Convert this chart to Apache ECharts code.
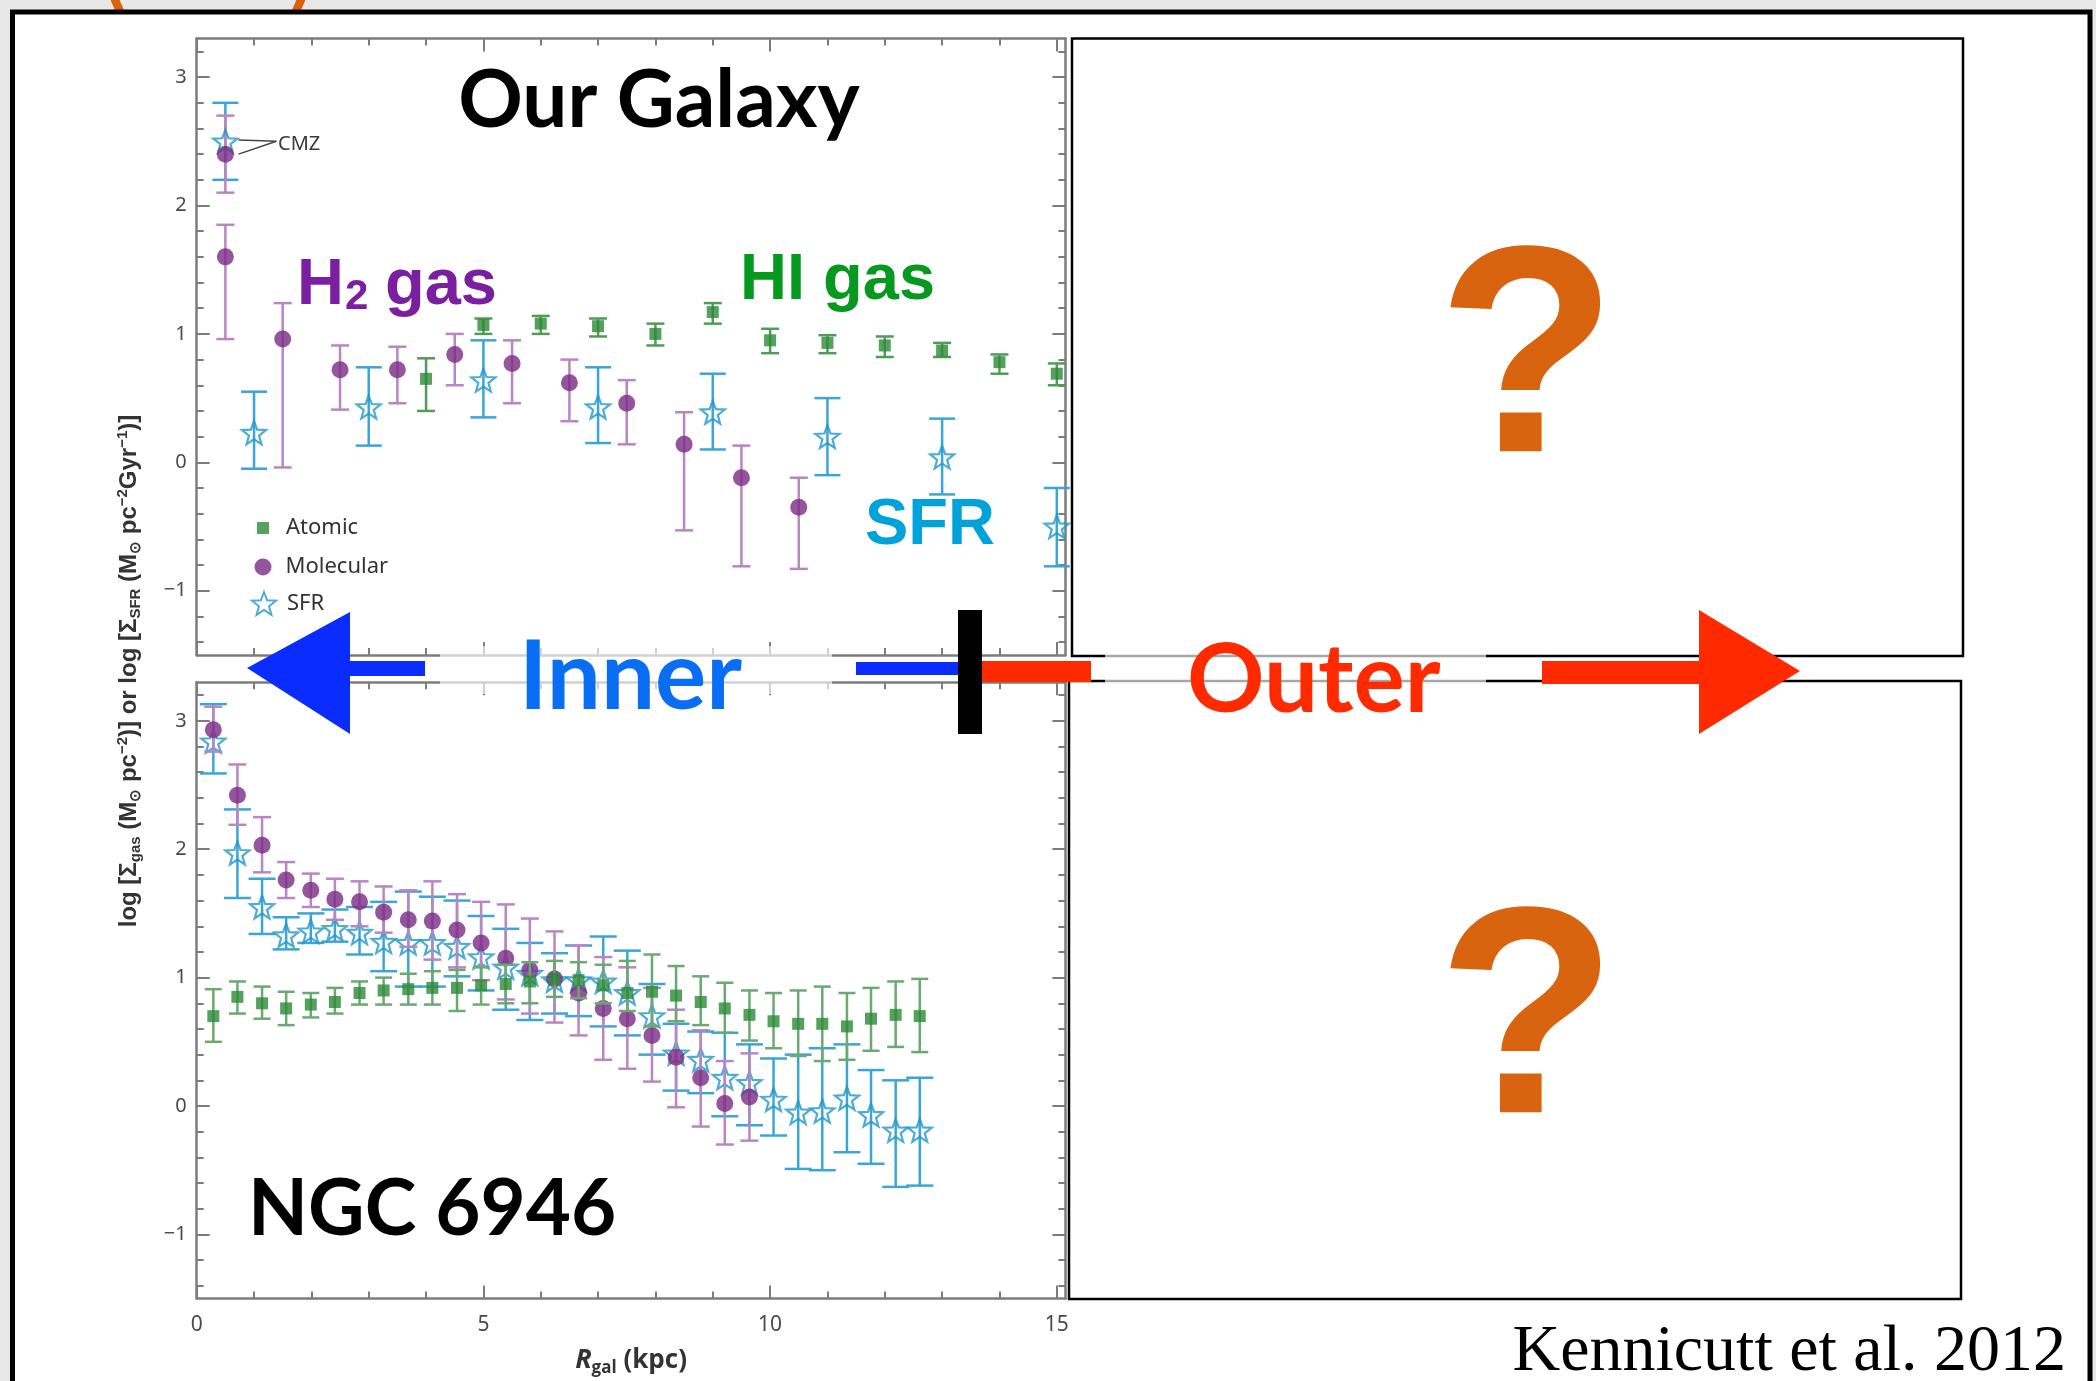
<!DOCTYPE html>
<html><head><meta charset="utf-8">
<script src="https://cdn.jsdelivr.net/npm/echarts@6/dist/echarts.min.js"></script>
<style>html,body{margin:0;padding:0;background:#e8e8e8}#c{width:2096px;height:1381px}</style>
</head><body><div id="c"></div>
<script>
// ---------------- Axis ticks / labels ----------------
const X_MIN = 0, X_MAX = 15.15, Y_MIN = -1.5, Y_MAX = 3.3;
const xMajorTicks = [0, 5, 10, 15];
const xMinorTicks = [1, 2, 3, 4, 6, 7, 8, 9, 11, 12, 13, 14];
const xTickLabels = [0, 5, 10, 15];
const yMajorTicks = [-1, 0, 1, 2, 3];
const yMinorTicks = [-1.4, -1.2, -0.8, -0.6, -0.4, -0.2, 0.2, 0.4, 0.6, 0.8, 1.2, 1.4, 1.6, 1.8, 2.2, 2.4, 2.6, 2.8, 3.2];
const yTickLabels = [-1, 0, 1, 2, 3];

// ---------------- Our Galaxy (top panel) ----------------
const mwAtomicR  = [4, 5, 6, 7, 8, 9, 10, 11, 12, 13, 14, 15];
const mwAtomic   = [0.65, 1.07, 1.08, 1.06, 1.00, 1.17, 0.95, 0.93, 0.91, 0.87, 0.78, 0.69];
const mwAtomicLo = [0.40, 1.00, 1.00, 0.98, 0.91, 1.08, 0.85, 0.85, 0.82, 0.82, 0.69, 0.60];
const mwAtomicHi = [0.81, 1.12, 1.14, 1.12, 1.08, 1.24, 1.04, 0.99, 0.98, 0.93, 0.84, 0.77];

const mwMolR  = [0.5, 0.5, 1.5, 2.5, 3.5, 4.5, 5.5, 6.5, 7.5, 8.5, 9.5, 10.5];
const mwMol   = [2.40, 1.60, 0.96, 0.72, 0.72, 0.84, 0.77, 0.62, 0.46, 0.14, -0.12, -0.35];
const mwMolLo = [2.10, 0.96, -0.04, 0.41, 0.46, 0.60, 0.46, 0.32, 0.14, -0.53, -0.81, -0.83];
const mwMolHi = [2.70, 1.85, 1.24, 0.91, 0.90, 1.00, 0.95, 0.80, 0.64, 0.39, 0.13, -0.12];

const mwSfrR  = [0.5, 1.0, 3.0, 5.0, 7.0, 9.0, 11.0, 13.0, 15.0];
const mwSfr   = [2.50, 0.23, 0.43, 0.64, 0.43, 0.39, 0.20, 0.04, -0.50];
const mwSfrLo = [2.20, -0.05, 0.13, 0.35, 0.15, 0.10, -0.10, -0.25, -0.81];
const mwSfrHi = [2.80, 0.55, 0.74, 0.95, 0.74, 0.69, 0.50, 0.34, -0.20];

// ---------------- NGC 6946 (bottom panel) ----------------
const ngcR = [0.29, 0.71, 1.14, 1.56, 1.99, 2.41, 2.84, 3.26, 3.69, 4.11, 4.54, 4.96, 5.39, 5.81, 6.24,
              6.66, 7.09, 7.51, 7.94, 8.36, 8.79, 9.21, 9.64, 10.06, 10.49, 10.91, 11.34, 11.76, 12.19, 12.61];
const ngcSfr   = [2.84, 1.97, 1.55, 1.33, 1.36, 1.38, 1.35, 1.28, 1.27, 1.27, 1.24, 1.16, 1.08, 1.03, 0.98,
                  0.98, 0.97, 0.88, 0.70, 0.41, 0.36, 0.22, 0.18, 0.05, -0.05, -0.04, 0.06, -0.07, -0.19, -0.19];
const ngcSfrLo = [2.59, 1.62, 1.34, 1.22, 1.27, 1.28, 1.18, 1.05, 0.93, 0.93, 1.01, 0.90, 0.75, 0.67, 0.72,
                  0.70, 0.62, 0.55, 0.40, 0.12, 0.10, -0.08, -0.15, -0.23, -0.49, -0.50, -0.36, -0.45, -0.63, -0.62];
const ngcSfrHi = [3.13, 2.31, 1.77, 1.47, 1.50, 1.53, 1.55, 1.59, 1.67, 1.63, 1.60, 1.48, 1.38, 1.27, 1.19,
                  1.25, 1.32, 1.21, 0.95, 0.64, 0.58, 0.57, 0.48, 0.37, 0.40, 0.45, 0.48, 0.28, 0.20, 0.22];

const ngcMol   = [2.93, 2.42, 2.03, 1.76, 1.68, 1.61, 1.59, 1.51, 1.45, 1.44, 1.37, 1.27, 1.15, 1.06, 0.99,
                  0.88, 0.76, 0.68, 0.55, 0.38, 0.22, 0.02, 0.07];
const ngcMolLo = [2.76, 2.19, 1.82, 1.62, 1.55, 1.45, 1.40, 1.35, 1.24, 1.14, 1.08, 0.98, 0.83, 0.72, 0.65,
                  0.55, 0.36, 0.29, 0.19, -0.01, -0.16, -0.30, -0.27];
const ngcMolHi = [3.11, 2.66, 2.25, 1.90, 1.81, 1.77, 1.75, 1.71, 1.68, 1.75, 1.65, 1.59, 1.57, 1.46, 1.36,
                  1.25, 1.16, 1.08, 0.92, 0.75, 0.59, 0.35, 0.41];

const ngcAtom   = [0.70, 0.85, 0.80, 0.76, 0.79, 0.81, 0.88, 0.90, 0.91, 0.92, 0.92, 0.94, 0.95, 0.97, 0.99,
                   0.98, 0.94, 0.88, 0.89, 0.86, 0.81, 0.76, 0.71, 0.66, 0.64, 0.64, 0.62, 0.68, 0.71, 0.70];
const ngcAtomLo = [0.50, 0.72, 0.68, 0.63, 0.69, 0.72, 0.79, 0.79, 0.79, 0.79, 0.74, 0.79, 0.80, 0.80, 0.85,
                   0.84, 0.80, 0.74, 0.62, 0.66, 0.63, 0.57, 0.51, 0.45, 0.39, 0.35, 0.36, 0.43, 0.46, 0.42];
const ngcAtomHi = [0.91, 0.97, 0.93, 0.89, 0.88, 0.92, 0.97, 1.00, 1.03, 1.05, 1.06, 1.08, 1.10, 1.12, 1.13,
                   1.12, 1.10, 1.13, 1.18, 1.09, 1.01, 0.96, 0.90, 0.88, 0.90, 0.93, 0.88, 0.92, 0.97, 0.99];

// ---------------- styling ----------------
const AX = '#7c7c7c';
const C_MOL = '#7b2a83', C_MOL_ERR = '#b985c2';
const C_SFR = '#1f97cc', C_SFR_ERR = '#3aa6d6';
const C_ATM = '#2c8a37', C_ATM_ERR = '#4f9c57', C_ATM_ERR2 = '#6aa96f';
const STAR = 'path://M50,0 L62.34,33.01 L97.55,34.55 L69.97,56.49 L79.39,90.45 L50,71 L20.61,90.45 L30.03,56.49 L2.45,34.55 L37.66,33.01 Z';
const TICKFONT = 'Noto Sans';
const GRID_L = 196.7, GRID_W = 868.7, GRID_H = 616.3;

const xAxes = [], yAxes = [];
function yFmt(v) { return v < 0 ? '\u2212' + (-v) : String(v); }
function addAxes(g, withLabels) {
  const cx = {gridIndex: g, type: 'value', min: X_MIN, max: X_MAX, splitLine: {show: false}};
  const cy = {gridIndex: g, type: 'value', min: Y_MIN, max: Y_MAX, splitLine: {show: false}};
  const line = {show: true, onZero: false, lineStyle: {color: AX, width: 2.5}};
  const noLine = {show: false, onZero: false};
  const maj = (vals) => ({show: true, inside: true, length: 13, customValues: vals, lineStyle: {color: AX, width: 2}});
  const min = (vals) => ({show: true, inside: true, length: 7, customValues: vals, lineStyle: {color: AX, width: 2}});
  const xb = Object.assign({}, cx, {position: 'bottom', axisLine: line, axisTick: maj(xMajorTicks),
    axisLabel: {show: withLabels, customValues: xTickLabels, margin: 16, color: '#4a4a4a', fontSize: 21, fontFamily: TICKFONT}});
  if (withLabels) {
    xb.name = '{r|R}{s|gal}{n| (kpc)}';
    xb.nameLocation = 'middle';
    xb.nameGap = 45;
    xb.nameTextStyle = {rich: {
      r: {fontSize: 27, fontWeight: 'bold', fontStyle: 'italic', fontFamily: 'Open Sans', color: '#333'},
      s: {fontSize: 17, fontWeight: 'bold', fontFamily: 'Open Sans', color: '#333', padding: [16, 0, 0, 0]},
      n: {fontSize: 26, fontWeight: 'bold', fontFamily: 'Open Sans', color: '#333'}
    }};
  }
  xAxes.push(xb);
  xAxes.push(Object.assign({}, cx, {position: 'bottom', axisLine: noLine, axisTick: min(xMinorTicks), axisLabel: {show: false}}));
  xAxes.push(Object.assign({}, cx, {position: 'top', axisLine: line, axisTick: maj(xMajorTicks), axisLabel: {show: false}}));
  xAxes.push(Object.assign({}, cx, {position: 'top', axisLine: noLine, axisTick: min(xMinorTicks), axisLabel: {show: false}}));

  yAxes.push(Object.assign({}, cy, {position: 'left', axisLine: line, axisTick: maj(yMajorTicks),
    axisLabel: {show: true, customValues: yTickLabels, formatter: yFmt, margin: 10, color: '#4a4a4a', fontSize: 20, fontFamily: TICKFONT}}));
  yAxes.push(Object.assign({}, cy, {position: 'left', axisLine: noLine, axisTick: min(yMinorTicks), axisLabel: {show: false}}));
  yAxes.push(Object.assign({}, cy, {position: 'right', axisLine: line, axisTick: maj(yMajorTicks), axisLabel: {show: false}}));
  yAxes.push(Object.assign({}, cy, {position: 'right', axisLine: noLine, axisTick: min(yMinorTicks), axisLabel: {show: false}}));
}
addAxes(0, false);
addAxes(1, true);

function errSeries(name, g, xs, lo, hi, color, capHalf, lw, z) {
  return {
    type: 'custom', name: name, xAxisIndex: g * 4, yAxisIndex: g * 4, z: z, silent: true,
    data: xs.map((x, i) => [x, lo[i], hi[i]]),
    renderItem: function (params, api) {
      const x = api.value(0);
      const a = api.coord([x, api.value(2)]);
      const b = api.coord([x, api.value(1)]);
      const st = {stroke: color, lineWidth: lw};
      return {type: 'group', children: [
        {type: 'line', shape: {x1: a[0], y1: a[1], x2: b[0], y2: b[1]}, style: st},
        {type: 'line', shape: {x1: a[0] - capHalf, y1: a[1], x2: a[0] + capHalf, y2: a[1]}, style: st},
        {type: 'line', shape: {x1: b[0] - capHalf, y1: b[1], x2: b[0] + capHalf, y2: b[1]}, style: st}
      ]};
    }
  };
}
function markSeries(name, g, xs, ys, symbol, size, style, z, extra) {
  return Object.assign({
    type: 'scatter', name: name, xAxisIndex: g * 4, yAxisIndex: g * 4, symbol: symbol, symbolSize: size,
    symbolKeepAspect: true, itemStyle: style, z: z, silent: true,
    data: xs.map((x, i) => [x, ys[i]])
  }, extra || {});
}
const starStyle = {color: 'rgba(255,255,255,0)', borderColor: C_SFR, borderWidth: 2.2};

const series = [
  // top panel
  errSeries('SFR err', 0, mwSfrR, mwSfrLo, mwSfrHi, C_SFR_ERR, 13, 2.5, 2),
  errSeries('Molecular err', 0, mwMolR, mwMolLo, mwMolHi, C_MOL_ERR, 9, 2.5, 3),
  errSeries('Atomic err', 0, mwAtomicR, mwAtomicLo, mwAtomicHi, C_ATM_ERR, 9, 2.5, 3),
  markSeries('SFR', 0, mwSfrR, mwSfr, STAR, 24, starStyle, 5, {
    markLine: {silent: true, symbol: ['none', 'none'], label: {show: false},
      lineStyle: {color: '#444', width: 1.5, type: 'solid'},
      data: [[{coord: [0.73, 2.51]}, {coord: [1.39, 2.50]}], [{coord: [0.73, 2.40]}, {coord: [1.39, 2.50]}]]}
  }),
  markSeries('Molecular', 0, mwMolR, mwMol, 'circle', 17, {color: C_MOL}, 5),
  markSeries('Atomic', 0, mwAtomicR, mwAtomic, 'rect', 12, {color: C_ATM}, 5),
  // bottom panel
  errSeries('SFR err', 1, ngcR, ngcSfrLo, ngcSfrHi, C_SFR_ERR, 13.5, 2.5, 2),
  markSeries('SFR', 1, ngcR, ngcSfr, STAR, 24, starStyle, 3),
  errSeries('Molecular err', 1, ngcR.slice(0, ngcMol.length), ngcMolLo, ngcMolHi, C_MOL_ERR, 9, 2.5, 4),
  markSeries('Molecular', 1, ngcR.slice(0, ngcMol.length), ngcMol, 'circle', 17, {color: C_MOL}, 5),
  errSeries('Atomic err', 1, ngcR, ngcAtomLo, ngcAtomHi, C_ATM_ERR2, 8.5, 2.5, 6),
  markSeries('Atomic', 1, ngcR, ngcAtom, 'rect', 12, {color: C_ATM}, 7)
];

const legTxt = {color: '#333', fontSize: 22, fontFamily: 'Noto Sans'};
function leg(name, left, top, w, h, padL) {
  return {data: [name], left: left, top: top, itemWidth: w, itemHeight: h, padding: 0, orient: 'vertical',
    selectedMode: false, textStyle: Object.assign({padding: [0, 0, 0, padL]}, legTxt)};
}

function txt(text, x, y, size, color, opt) {
  const o = opt || {};
  const z = o.z !== undefined ? o.z : 50;
  delete o.z;
  return {type: 'text', z: z, silent: true, style: Object.assign({
    text: text, x: x, y: y, fontSize: size, fill: color, fontFamily: 'Lato', fontWeight: 'bold',
    align: 'left', verticalAlign: 'middle', textAlign: 'left', textVerticalAlign: 'middle'}, o)};
}
const graphics = [
  // slide title remnant (cut off at the top edge, hidden behind the slide frame)
  txt('(', 104, 16, 80, '#d9620e', {verticalAlign: 'bottom', textVerticalAlign: 'bottom', z: -120}),
  txt('cont.', 205, 4, 80, '#d9620e', {align: 'center', textAlign: 'center', verticalAlign: 'bottom', textVerticalAlign: 'bottom', z: -120}),
  txt(')', 312, 16, 80, '#d9620e', {align: 'right', textAlign: 'right', verticalAlign: 'bottom', textVerticalAlign: 'bottom', z: -120}),
  // slide frame
  {type: 'rect', z: -100, silent: true, shape: {x: 12.5, y: 12, width: 2077.5, height: 1420},
   style: {fill: '#ffffff', stroke: '#000000', lineWidth: 5}},
  // right hand empty panels
  {type: 'rect', z: 8, silent: true, shape: {x: 1072, y: 38.5, width: 891, height: 617.5}, style: {fill: 'none', stroke: '#000', lineWidth: 2.5}},
  {type: 'rect', z: 8, silent: true, shape: {x: 1069, y: 681, width: 892, height: 618}, style: {fill: 'none', stroke: '#000', lineWidth: 2.5}},
  // faded bands behind Inner / Outer
  {type: 'rect', z: 9, silent: true, shape: {x: 440, y: 646, width: 392, height: 48}, style: {fill: 'rgba(255,255,255,0.65)'}},
  {type: 'rect', z: 9, silent: true, shape: {x: 1105, y: 646, width: 381, height: 48}, style: {fill: 'rgba(255,255,255,0.65)'}},
  // blue arrow (inner)
  {type: 'polygon', z: 20, silent: true, shape: {points: [[247, 668], [350, 612], [350, 734]]}, style: {fill: '#0b2cff'}},
  {type: 'rect', z: 20, silent: true, shape: {x: 345, y: 661, width: 80, height: 15}, style: {fill: '#0b2cff'}},
  {type: 'rect', z: 20, silent: true, shape: {x: 856, y: 662, width: 104, height: 13}, style: {fill: '#0b2cff'}},
  // black divider
  {type: 'rect', z: 21, silent: true, shape: {x: 958, y: 610, width: 24, height: 124}, style: {fill: '#000'}},
  // red arrow (outer)
  {type: 'rect', z: 20, silent: true, shape: {x: 982, y: 661, width: 109, height: 21}, style: {fill: '#ff2a00'}},
  {type: 'rect', z: 20, silent: true, shape: {x: 1542, y: 661, width: 160, height: 23}, style: {fill: '#ff2a00'}},
  {type: 'polygon', z: 20, silent: true, shape: {points: [[1699, 610], [1800, 671], [1699, 734]]}, style: {fill: '#ff2a00'}},
  // labels
  txt('Our Galaxy', 659, 101, 80, '#000', {align: 'center', textAlign: 'center'}),
  txt('H', 297, 286, 65, '#7a1fa0', {fontFamily: 'Liberation Sans'}),
  txt('2', 345, 297, 42, '#7a1fa0', {fontFamily: 'Liberation Sans'}),
  txt('gas', 385, 286, 65, '#7a1fa0', {fontFamily: 'Liberation Sans'}),
  txt('HI gas', 740, 281, 65, '#05991f', {fontFamily: 'Liberation Sans'}),
  txt('SFR', 865, 526, 65, '#00a3d9', {fontFamily: 'Liberation Sans'}),
  txt('NGC 6946', 248, 1210, 78, '#000'),
  txt('Inner', 519, 678, 96, '#0a6ef5'),
  txt('Outer', 1187, 681, 96, '#ff2a00'),
  txt('?', 1527, 370, 295, '#d8640f', {fontFamily: 'Liberation Sans', align: 'center', textAlign: 'center'}),
  txt('?', 1527, 1031, 295, '#d8640f', {fontFamily: 'Liberation Sans', align: 'center', textAlign: 'center'}),
  txt('Kennicutt et al. 2012', 2066, 1353, 66, '#000', {fontFamily: 'Liberation Serif', fontWeight: 'normal', align: 'right', textAlign: 'right'}),
  txt('CMZ', 278, 144, 20, '#3a3a3a', {fontFamily: 'Noto Sans', fontWeight: 'normal'}),
  // shared y-axis title
  {type: 'text', z: 50, silent: true, x: 129, y: 671, rotation: Math.PI / 2, style: {
    text: '{b|log [\u03A3}{sb|gas}{b| (M}{sb|\u2299}{b| pc}{sp|\u22122}{b|)] or log [\u03A3}{sb|SFR}{b| (M}{sb|\u2299}{b| pc}{sp|\u22122}{b|Gyr}{sp|\u22121}{b|)]}',
    x: 0, y: 0, align: 'center', verticalAlign: 'middle', textAlign: 'center', textVerticalAlign: 'middle',
    rich: {
      b: {fontSize: 24, fontWeight: 'bold', fontFamily: 'Liberation Sans', fill: '#333'},
      sb: {fontSize: 15, fontWeight: 'bold', fontFamily: 'Liberation Sans', fill: '#333', padding: [13, 0, 0, 0]},
      sp: {fontSize: 15, fontWeight: 'bold', fontFamily: 'Liberation Sans', fill: '#333', padding: [0, 0, 13, 0]}
    }}}
];

const option = {
  animation: false,
  backgroundColor: '#e8e8e8',
  grid: [
    {left: GRID_L, top: 38.6, width: GRID_W, height: GRID_H, containLabel: false},
    {left: GRID_L, top: 682.3, width: GRID_W, height: GRID_H, containLabel: false}
  ],
  xAxis: xAxes,
  yAxis: yAxes,
  legend: [
    leg('Atomic', 257, 517, 12, 12, 12),
    leg('Molecular', 254.5, 556, 17, 17, 9),
    leg('SFR', 251, 591, 24, 24, 6)
  ],
  graphic: {elements: graphics},
  series: series
};
const chart = echarts.init(document.getElementById('c'), null, {renderer: 'canvas', width: 2096, height: 1381});
chart.setOption(option);
</script></body></html>
